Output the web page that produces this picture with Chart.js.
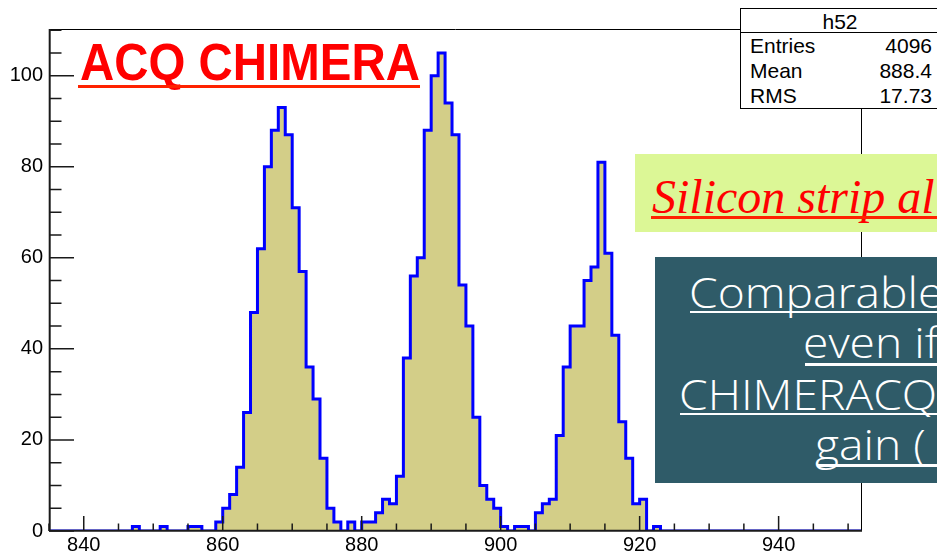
<!DOCTYPE html>
<html>
<head>
<meta charset="utf-8">
<title>h52</title>
<script src="https://cdn.jsdelivr.net/npm/chart.js@4.4.0/dist/chart.umd.min.js"></script>
<style>
  html, body { margin: 0; padding: 0; background: #fff; overflow: hidden; }
  #stage { position: relative; width: 937px; height: 554px; overflow: hidden; background: #fff; }
  #stage canvas { position: absolute; left: 0; top: 0; }
  .abs { position: absolute; }
  .title { left: 80px; top: 63px; font: bold 51px "Liberation Sans", Arial, sans-serif; color: #ff0000;
           transform: scaleX(0.93); transform-origin: 0 0; }
  .stats { left: 740px; top: 8px; width: 205px; height: 99px; border: 1px solid #000; background: #fff; }
  .stats-rule { left: 740px; top: 32px; width: 205px; height: 1px; background: #000; }
  .stat { font: 21px "Liberation Sans", Arial, sans-serif; color: #000; }
  .note1 { left: 635px; top: 154px; width: 320px; height: 78px; background: #dcf796; }
  .note1-text { left: 652px; top: 197px; font: italic 48px "Liberation Serif", serif; color: #ff0000; }
  .note2 { left: 655px; top: 257px; width: 320px; height: 226px; background: #2f5b68; }
  .note2-text { font: 300 42px "Open Sans", sans-serif; color: #fff; transform: scaleX(1.1); transform-origin: 0 0; }
  .rule-red { height: 3px; background: #ff2200; }
  .rule-white { height: 2.5px; background: #fff; }
  /* zero-height line boxes: baseline sits (ascent - descent)/2 below the top */
  .txt { position: absolute; white-space: nowrap; line-height: 0 !important; }
</style>
</head>
<body>
<div id="stage">
  <canvas id="h52" width="937" height="554"></canvas>
</div>
<script>
// Histogram h52: one count per channel, channels 835 .. 951
const binLowEdge = 835;
const binWidth = 1;
const counts = [
  0, 0, 0, 0, 0,                          // 835-839
  0, 0, 0, 0, 0, 0, 0, 1, 0, 0,           // 840-849
  0, 1, 0, 0, 0, 1, 1, 0, 0, 2,           // 850-859
  5, 8, 14, 26, 48, 62, 80, 88, 93, 87,   // 860-869
  71, 57, 36, 29, 16, 5, 2, 0, 2, 0,      // 870-879
  2, 2, 4, 7, 6, 12, 38, 56, 60, 88,      // 880-889
  100, 105, 94, 87, 54, 45, 25, 10, 7, 5, // 890-899
  1, 0, 1, 1, 0, 4, 6, 7, 21, 36,         // 900-909
  45, 45, 55, 58, 81, 61, 43, 24, 16, 6,  // 910-919
  7, 0, 1, 0, 0, 0, 0, 0, 0, 0,           // 920-929
  0, 0, 0, 0, 0, 0, 0, 0, 0, 0,           // 930-939
  0, 0, 0, 0, 0, 0, 0, 0, 0, 0,           // 940-949
  0, 0                                    // 950-951
];

const xTickLabels = [840, 860, 880, 900, 920, 940];
const yTickLabels = [0, 20, 40, 60, 80, 100];
const xMinorStep = 5;
const yMinorStep = 5;
const yMax = 110.25;

const statsTitle = 'h52';
const statsNames = ['Entries', 'Mean', 'RMS'];
const statsValues = ['4096', '888.4', '17.73'];

const headline = 'ACQ CHIMERA';
const noteGreen = 'Silicon strip al';
const noteDarkLines = ['Comparable', 'even if', 'CHIMERACQ', 'gain ('];

// step outline: each bin's count is held from its low edge to the next edge
const nBins = counts.length;
const xMaxEdge = binLowEdge + nBins * binWidth;
const histPoints = counts.map((c, i) => ({ x: binLowEdge + i * binWidth, y: c }));
histPoints.push({ x: xMaxEdge, y: counts[nBins - 1] });

// frame, inward tick marks (major + minor) drawn on top of the histogram
const rootFrame = {
  id: 'rootFrame',
  afterDatasetsDraw(chart) {
    const { ctx, chartArea: a, scales: { x, y } } = chart;
    ctx.save();
    ctx.strokeStyle = '#000';
    ctx.lineWidth = 1;
    ctx.beginPath();
    ctx.moveTo(a.left, a.top + 0.5); ctx.lineTo(a.right, a.top + 0.5);
    ctx.moveTo(a.right - 0.5, a.top); ctx.lineTo(a.right - 0.5, a.bottom);
    ctx.stroke();

    ctx.strokeStyle = '#1a1a1a';
    ctx.lineWidth = 2;
    ctx.beginPath();
    ctx.moveTo(a.left + 0.7, a.top); ctx.lineTo(a.left + 0.7, a.bottom);
    ctx.moveTo(a.left, a.bottom - 0.2); ctx.lineTo(a.right, a.bottom - 0.2);
    ctx.stroke();

    ctx.lineWidth = 1.5;
    ctx.beginPath();
    for (let v = 0; v <= yMax; v += yMinorStep) {
      const py = y.getPixelForValue(v);
      const len = yTickLabels.includes(v) ? 25 : 12.5;
      ctx.moveTo(a.left, py); ctx.lineTo(a.left + len, py);
    }
    for (let v = binLowEdge; v <= xMaxEdge; v += xMinorStep) {
      const px = x.getPixelForValue(v);
      const len = xTickLabels.includes(v) ? 15 : 7.5;
      ctx.moveTo(px, a.bottom); ctx.lineTo(px, a.bottom - len);
    }
    ctx.stroke();
    ctx.restore();
  }
};

const tickFont = { family: '"Liberation Sans", Arial, sans-serif', size: 20 };

new Chart(document.getElementById('h52'), {
  type: 'line',
  data: {
    datasets: [{
      label: statsTitle,
      data: histPoints,
      stepped: true,
      borderColor: '#0000ff',
      borderWidth: 3,
      backgroundColor: 'rgb(211, 206, 136)',
      fill: 'origin',
      pointRadius: 0,
      pointHoverRadius: 0,
      borderJoinStyle: 'miter',
      borderCapStyle: 'butt'
    }]
  },
  options: {
    responsive: false,
    animation: false,
    devicePixelRatio: 1,
    events: [],
    layout: { padding: { left: 0, top: 29, right: 75, bottom: 0 } },
    plugins: { legend: { display: false }, tooltip: { enabled: false }, title: { display: false } },
    scales: {
      x: {
        type: 'linear',
        min: binLowEdge,
        max: xMaxEdge,
        afterBuildTicks: s => { s.ticks = xTickLabels.map(v => ({ value: v })); },
        afterFit: s => { s.height = 23; },
        grid: { display: false, drawTicks: false },
        border: { display: false },
        ticks: { font: tickFont, color: '#000', padding: 2, maxRotation: 0, autoSkip: false }
      },
      y: {
        type: 'linear',
        min: 0,
        max: yMax,
        afterBuildTicks: s => { s.ticks = yTickLabels.map(v => ({ value: v })); },
        afterFit: s => { s.width = 49; },
        grid: { display: false, drawTicks: false },
        border: { display: false },
        ticks: { font: tickFont, color: '#000', padding: 6, autoSkip: false }
      }
    }
  },
  plugins: [rootFrame]
});

// annotation boxes laid over the plot
const stage = document.getElementById('stage');
function addEl(cls, styles, text) {
  const d = document.createElement('div');
  d.className = cls;
  Object.assign(d.style, styles || {});
  if (text !== undefined) d.textContent = text;
  stage.appendChild(d);
  return d;
}

addEl('txt title', {}, headline);
addEl('abs rule-red', { left: '78px', top: '85px', width: '342px', height: '2.5px' });

addEl('abs stats');
addEl('abs stats-rule');
addEl('txt stat', { left: '0px', width: '1680px', top: '22px', textAlign: 'center' }, statsTitle);
const rowBase = [53.3, 78.5, 103.6];
statsNames.forEach((n, i) => {
  addEl('txt stat', { left: '750px', top: (rowBase[i] - 7.3) + 'px' }, n);
  addEl('txt stat', { right: '5px', top: (rowBase[i] - 7.3) + 'px', textAlign: 'right' }, statsValues[i]);
});

addEl('abs note1');
addEl('txt note1-text', {}, noteGreen);
addEl('abs rule-red', { left: '651px', top: '215.5px', width: '300px' });

addEl('abs note2');
const darkLeft = [689, 803, 679, 815];
const darkBase = [308.3, 358.3, 410, 460];
const darkRule = [[690, 310.7], [805, 363.3], [680, 412.7], [816.5, 464]];
noteDarkLines.forEach((t, i) => {
  addEl('txt note2-text', { left: darkLeft[i] + 'px', top: (darkBase[i] - 16.3) + 'px' }, t);
  addEl('abs rule-white', { left: darkRule[i][0] + 'px', top: darkRule[i][1] + 'px', width: '300px' });
});
</script>
</body>
</html>
